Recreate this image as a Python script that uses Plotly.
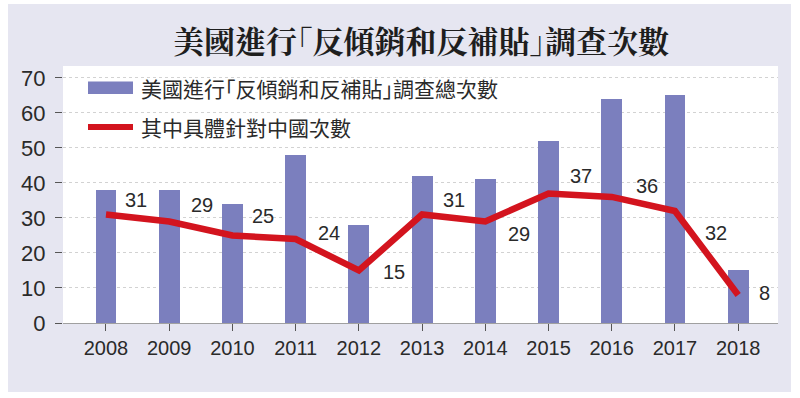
import plotly.graph_objects as go

years = ["2008", "2009", "2010", "2011", "2012", "2013", "2014", "2015", "2016", "2017", "2018"]
total_cases = [38, 38, 34, 48, 28, 42, 41, 52, 64, 65, 15]
china_cases = [31, 29, 25, 24, 15, 31, 29, 37, 36, 32, 8]
# label offsets (pixels) for the china-case labels
label_dx = [30, 33, 31, 33, 35, 32, 34, 32, 35, 41, 26]
label_dy = [14, 16, 19, 6, -2, 14, -13, 17, 11, -22, 2]

title_text = "美國進行｢反傾銷和反補貼｣調查次數"
legend_bar = "美國進行｢反傾銷和反補貼｣調查總次數"
legend_line = "其中具體針對中國次數"
y_ticks = [0, 10, 20, 30, 40, 50, 60, 70]

W, H = 800, 398
L, R, T, B = 63, 778, 66, 323
PW, PH = R - L, B - T


def px(x):
    return (x - L) / PW


def py(y):
    return (B - y) / PH


BAR_COLOR = "#7b7fbe"
LINE_COLOR = "#d3141e"
BG = "#e6e6f1"
TXT = "#2a2a2a"
SANS = "Liberation Sans, Arial, sans-serif"
CJK = "Noto Sans CJK TC, Noto Sans CJK SC, sans-serif"

fig = go.Figure()
fig.add_trace(go.Bar(x=years, y=total_cases, marker=dict(color=BAR_COLOR, line=dict(width=0)),
                     width=0.33, showlegend=False, hoverinfo="skip"))
fig.add_trace(go.Scatter(x=years, y=china_cases, mode="lines",
                         line=dict(color=LINE_COLOR, width=6.5), showlegend=False, hoverinfo="skip"))

annotations = []
for i, (v, dx, dy) in enumerate(zip(china_cases, label_dx, label_dy)):
    annotations.append(dict(x=i, y=v, xref="x", yref="y", text=str(v), showarrow=False,
                            xshift=dx, yshift=dy, font=dict(family=SANS, size=20, color=TXT)))

# title
annotations.append(dict(x=0.5, y=py(40), xref="paper", yref="paper", text="<b>" + title_text + "</b>",
                        showarrow=False, xanchor="center", yanchor="middle",
                        font=dict(family="Noto Serif CJK TC, " + CJK, size=31, color="#1e1e1e")))
# legend texts
annotations.append(dict(x=px(139), y=py(88), xref="paper", yref="paper", text=legend_bar,
                        showarrow=False, xanchor="left", yanchor="middle",
                        font=dict(family=CJK, size=21, color=TXT)))
annotations.append(dict(x=px(139), y=py(127), xref="paper", yref="paper", text=legend_line,
                        showarrow=False, xanchor="left", yanchor="middle",
                        font=dict(family=CJK, size=21, color=TXT)))

shapes = [
    dict(type="rect", xref="paper", yref="paper", x0=px(8), x1=px(791), y0=py(392), y1=py(4),
         fillcolor=BG, line=dict(width=0), layer="below"),
    dict(type="rect", xref="paper", yref="paper", x0=0, x1=1, y0=0, y1=1,
         fillcolor="white", line=dict(width=0), layer="below"),
    dict(type="rect", xref="paper", yref="paper", x0=px(88), x1=px(133), y0=py(94), y1=py(81.5),
         fillcolor=BAR_COLOR, line=dict(width=0)),
    dict(type="line", xref="paper", yref="paper", x0=px(88), x1=px(133), y0=py(127), y1=py(127),
         line=dict(color=LINE_COLOR, width=6)),
]

fig.update_layout(
    width=W, height=H,
    margin=dict(l=L, r=W - R, t=T, b=H - B, pad=0),
    paper_bgcolor="white", plot_bgcolor="white",
    annotations=annotations, shapes=shapes,
    bargap=0,
    xaxis=dict(type="category", range=[-0.68, 10.63], showgrid=False,
               showline=True, linecolor="#a0a0a0", linewidth=1,
               ticks="outside", ticklen=7, tickcolor="#555", tickwidth=1,
               tickfont=dict(family=SANS, size=20, color=TXT), fixedrange=True),
    yaxis=dict(range=[0, 73.4], tickvals=y_ticks, showgrid=True, gridcolor="#d2d2d2",
               griddash="dot", gridwidth=1, zeroline=False, showline=False,
               ticks="outside", ticklen=7, tickcolor="#555", tickwidth=1,
               ticklabelstandoff=5,
               tickfont=dict(family=SANS, size=22, color=TXT), fixedrange=True),
)

fig.write_html("out.html", config={"displayModeBar": False},
               post_script="document.body.style.margin='0';")
